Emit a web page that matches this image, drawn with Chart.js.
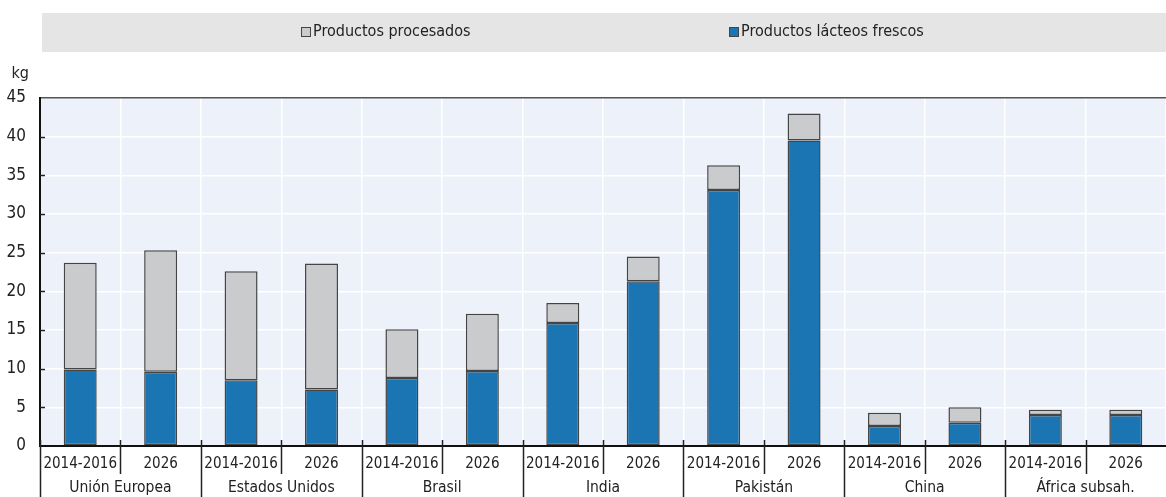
<!DOCTYPE html>
<html>
<head>
<meta charset="utf-8">
<script src="https://cdn.jsdelivr.net/npm/chart.js@4.4.1/dist/chart.umd.min.js"></script>
<style>
  html, body { margin: 0; padding: 0; background: #fff; }
  #wrap { width: 1166px; height: 497px; position: relative; }
</style>
</head>
<body>
<div id="wrap"><canvas id="chart" width="1166" height="497"></canvas></div>
<script>
const years = ["2014-2016", "2026"];
const regions = ["Unión Europea", "Estados Unidos", "Brasil", "India", "Pakistán", "China", "África subsah."];
const freshDairy = [9.9, 9.6, 8.5, 7.3, 8.8, 9.7, 15.9, 21.3, 33.1, 39.5, 2.6, 3.0, 4.0, 4.0];
const processed = [13.8, 15.7, 14.1, 16.3, 6.3, 7.4, 2.6, 3.2, 3.2, 3.5, 1.7, 2.0, 0.7, 0.7];
const yTicks = [0, 5, 10, 15, 20, 25, 30, 35, 40, 45];

const FONT = "'Liberation Sans Narrow', 'DejaVu Sans Condensed', 'Liberation Sans', sans-serif";
const BLUE = "#1b75b3";
const GREY = "#c9cbcd";
const EDGE = "#444444";

const labels = regions.flatMap(() => years);

// background, legend band and the two-level axis
const decor = {
  id: "decor",
  beforeDraw(chart) {
    const { ctx, chartArea: a } = chart;
    ctx.save();
    ctx.fillStyle = "#edf1f9";
    ctx.fillRect(a.left, a.top, a.right - a.left, a.bottom - a.top);

    // legend band
    ctx.fillStyle = "#e5e5e5";
    ctx.fillRect(42, 13, 1124, 39);
    const items = [
      { text: "Productos procesados", fill: GREY, x: 301 },
      { text: "Productos lácteos frescos", fill: BLUE, x: 729 },
    ];
    ctx.font = "16px " + FONT;
    ctx.textBaseline = "middle";
    items.forEach(it => {
      ctx.fillStyle = it.fill;
      ctx.fillRect(it.x, 27, 10, 10);
      ctx.strokeStyle = "#444";
      ctx.lineWidth = 1;
      ctx.strokeRect(it.x + 0.5, 27.5, 9, 9);
      ctx.fillStyle = "#222";
      ctx.textAlign = "left";
      ctx.fillText(it.text, it.x + 12, 32);
    });

    // unit
    ctx.fillStyle = "#222";
    ctx.font = "16px " + FONT;
    ctx.textAlign = "right";
    ctx.fillText("kg", 29, 74);
    ctx.restore();
  },
  afterDraw(chart) {
    const { ctx, chartArea: a, scales } = chart;
    const x = scales.x, y = scales.y;
    ctx.save();

    // small tick marks inside the plot on the y axis
    ctx.strokeStyle = "#222";
    ctx.lineWidth = 1.5;
    yTicks.forEach(v => {
      if (v === 0 || v === 45) return;
      const py = Math.round(y.getPixelForValue(v)) + 0.5;
      ctx.beginPath();
      ctx.moveTo(a.left, py);
      ctx.lineTo(a.left + 5, py);
      ctx.stroke();
    });

    // separators under the x axis
    const step = x.getPixelForValue(1) - x.getPixelForValue(0);
    ctx.strokeStyle = "#222";
    ctx.lineWidth = 1.5;
    for (let i = 0; i < labels.length; i++) {
      const px = Math.round(x.getPixelForValue(i) - step / 2) + 0.5;
      const major = i % 2 === 0;
      ctx.beginPath();
      ctx.moveTo(px, a.bottom - 6);
      ctx.lineTo(px, major ? 497 : a.bottom + 28);
      ctx.stroke();
    }

    // region labels
    ctx.fillStyle = "#222";
    ctx.font = "15.5px " + FONT;
    ctx.textAlign = "center";
    ctx.textBaseline = "middle";
    regions.forEach((r, k) => {
      const cx = (x.getPixelForValue(2 * k) + x.getPixelForValue(2 * k + 1)) / 2;
      ctx.fillText(r, cx, 488);
    });
    ctx.restore();
  },
};

new Chart(document.getElementById("chart"), {
  type: "bar",
  data: {
    labels: labels,
    datasets: [
      {
        label: "Productos lácteos frescos",
        data: freshDairy,
        backgroundColor: BLUE,
        borderColor: EDGE,
        borderWidth: 1.5,
        borderSkipped: false,
      },
      {
        label: "Productos procesados",
        data: processed,
        backgroundColor: GREY,
        borderColor: EDGE,
        borderWidth: 1.5,
        borderSkipped: false,
      },
    ],
  },
  options: {
    responsive: false,
    animation: false,
    barPercentage: 0.41,
    categoryPercentage: 1.0,
    layout: { padding: { top: 98, right: 0, left: 0, bottom: 0 } },
    plugins: { legend: { display: false }, tooltip: { enabled: false } },
    scales: {
      x: {
        stacked: true,
        grid: { color: "#ffffff", lineWidth: 1.5, drawTicks: false, offset: true },
        border: { display: true, color: "#111", width: 2 },
        ticks: { color: "#222", font: { family: FONT, size: 15 }, padding: 9, maxRotation: 0, autoSkip: false },
        afterFit(s) { s.height = 51; },
      },
      y: {
        stacked: true,
        min: 0,
        max: 45,
        grid: {
          color: c => (c.tick && c.tick.value === 45 ? "#555" : "#ffffff"),
          lineWidth: 1.5,
          drawTicks: false,
        },
        border: { display: true, color: "#111", width: 2 },
        ticks: { stepSize: 5, color: "#222", font: { family: FONT, size: 17 }, padding: 14 },
        afterFit(s) { s.width = 40; },
      },
    },
  },
  plugins: [decor],
});
</script>
</body>
</html>
